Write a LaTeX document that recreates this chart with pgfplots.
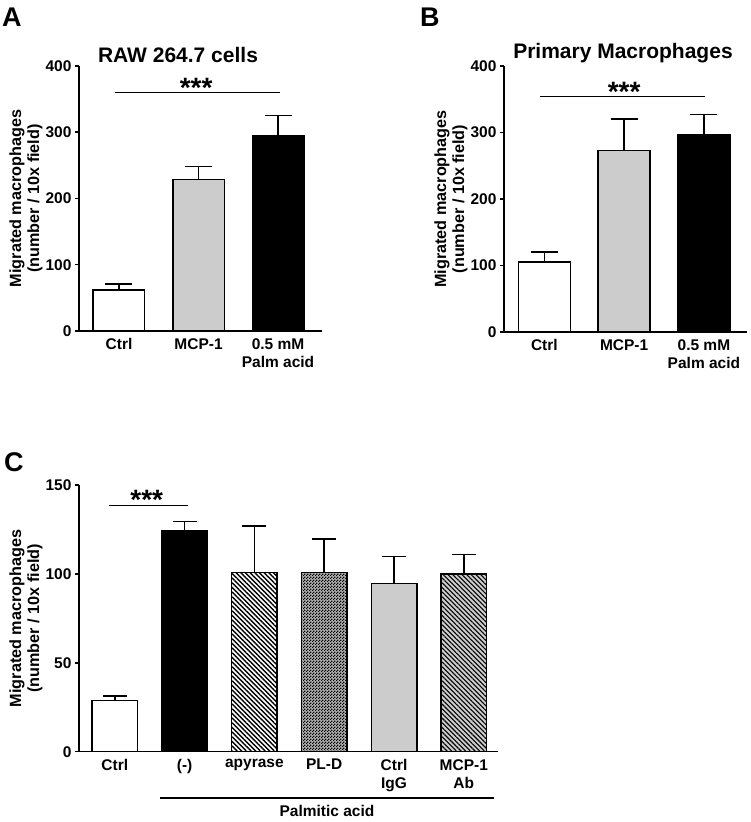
\documentclass[border=0pt]{standalone}
\usepackage{pgfplots}
\pgfplotsset{compat=1.18}
\usepackage{fontspec}
\setmainfont{Liberation Sans}
\usetikzlibrary{patterns,patterns.meta}
\pgfdeclarepatternformonly{finecheck}{\pgfpointorigin}{\pgfqpoint{3pt}{3pt}}{\pgfqpoint{3pt}{3pt}}{%
  \pgfpathrectangle{\pgfpointorigin}{\pgfqpoint{1.5pt}{1.5pt}}%
  \pgfpathrectangle{\pgfqpoint{1.5pt}{1.5pt}}{\pgfqpoint{1.5pt}{1.5pt}}%
  \pgfusepath{fill}}
\newcommand{\lbl}{\fontsize{15.5}{18}\selectfont\bfseries}
\pgfplotsset{
  panel/.style={
    scale only axis,
    axis lines*=left,
    axis line style={line width=1.5pt, black},
    ymin=0,
    tick align=outside,
    major tick length=4pt,
    ytick style={line width=1.5pt, black},
    xtick style={draw=none},
    tick label style={font=\lbl},
    /pgf/number format/assume math mode=true,
    xticklabel style={align=center},
    ylabel style={font=\fontsize{16.2}{18}\selectfont\bfseries, align=center, anchor=center},
    clip=false,
  },
  bar/.style={ybar, bar shift=0pt, draw=black, line width=1.5pt,
    error bars/y dir=plus, error bars/y explicit,
    error bars/error mark=|,
    error bars/error bar style={line width=1.5pt, black},
    error bars/error mark options={line width=1.5pt, black, mark size=#1}},
}
\begin{document}
\begin{tikzpicture}
\useasboundingbox (0,0) rectangle (750pt,822pt);
% Panel A
\begin{axis}[panel, at={(79pt,491pt)}, anchor=south west,
  width=243pt, height=265pt,
  xmin=-0.503, xmax=2.553, ymax=400, ytick={0,100,200,300,400},
  xtick={0,1,2}, xticklabels={Ctrl, MCP-1, {0.5 mM\\Palm acid}},
  ylabel={Migrated macrophages\\(number / 10x field)},
  ylabel style={at={(axis description cs:-0.218,0.5)}},
  bar width=51.5pt]
\addplot[bar=13.5pt, fill=white] coordinates {(0,62) +- (0,9)};
\addplot[bar=13.5pt, fill=gray!40] coordinates {(1,229) +- (0,19)};
\addplot[bar=13.5pt, fill=black] coordinates {(2,295) +- (0,30)};
\draw[line width=0.8pt] (axis cs:-0.05,360) -- (axis cs:2.03,360);
\node[anchor=base, font=\fontsize{28}{30}\selectfont\bfseries] at (axis cs:0.97,353) {***};
\end{axis}
% Panel B
\begin{axis}[panel, at={(504pt,490pt)}, anchor=south west,
  width=243pt, height=266pt,
  xmin=-0.506, xmax=2.54, ymax=400, ytick={0,100,200,300,400},
  xtick={0,1,2}, xticklabels={Ctrl, MCP-1, {0.5 mM\\Palm acid}},
  ylabel={Migrated macrophages\\(number / 10x field)},
  ylabel style={at={(axis description cs:-0.218,0.5)}},
  bar width=52pt]
\addplot[bar=13.5pt, fill=white] coordinates {(0,105) +- (0,15)};
\addplot[bar=13.5pt, fill=gray!40] coordinates {(1,273) +- (0,47)};
\addplot[bar=13.5pt, fill=black] coordinates {(2,296) +- (0,31)};
\draw[line width=0.8pt] (axis cs:-0.054,354) -- (axis cs:2.01,354);
\node[anchor=base, font=\fontsize{28}{30}\selectfont\bfseries] at (axis cs:1.0,347) {***};
\end{axis}
% Panel C
\begin{axis}[panel, at={(79pt,70.3pt)}, anchor=south west,
  width=419pt, height=266.7pt,
  xmin=-0.513, xmax=5.49, ymax=150, ytick={0,50,100,150},
  xtick={0,1,2,3,4,5}, xticklabels={Ctrl, (-), apyrase, PL-D, {Ctrl\\IgG}, {MCP-1\\Ab}},
  ylabel={Migrated macrophages\\(number / 10x field)},
  ylabel style={at={(axis description cs:-0.1265,0.5)}},
  bar width=45.5pt]
\addplot[bar=12pt, fill=white] coordinates {(0,28.7) +- (0,2.6)};
\addplot[bar=12pt, fill=black] coordinates {(1,124) +- (0,5.6)};
\addplot[bar=12pt, fill=white, postaction={pattern={Lines[angle=-45, distance=3.3pt, line width=1.4pt]}, pattern color=black}] coordinates {(2,100.7) +- (0,26.1)};
\addplot[bar=12pt, fill=gray!60, postaction={pattern=finecheck, pattern color=black}] coordinates {(3,100.7) +- (0,18.9)};
\addplot[bar=12pt, fill=gray!40] coordinates {(4,94.7) +- (0,15)};
\addplot[bar=12pt, fill=gray!40, postaction={pattern={Lines[angle=-45, distance=3.3pt, line width=1.1pt]}, pattern color=black}] coordinates {(5,100) +- (0,10.8)};
\draw[line width=0.8pt] (axis cs:-0.083,138.4) -- (axis cs:1.053,138.4);
\node[anchor=base, font=\fontsize{28}{30}\selectfont\bfseries] at (axis cs:0.457,136) {***};
\draw[line width=1.5pt] (axis cs:0.648,-25.9) -- (axis cs:5.43,-25.9);
\node[anchor=base, font=\lbl] at (axis cs:3.04,-36.6) {Palmitic acid};
\end{axis}
% Titles and panel letters
\node[anchor=base, font=\fontsize{21}{25}\selectfont\bfseries] at (178pt,759.3pt) {RAW 264.7 cells};
\node[anchor=base, font=\fontsize{21}{25}\selectfont\bfseries] at (623pt,763.5pt) {Primary Macrophages};
\node[anchor=base west, inner sep=0pt, font=\fontsize{27}{30}\selectfont\bfseries] at (2pt,795pt) {A};
\node[anchor=base west, inner sep=0pt, font=\fontsize{27}{30}\selectfont\bfseries] at (420pt,795.3pt) {B};
\node[anchor=base west, inner sep=0pt, font=\fontsize{27}{30}\selectfont\bfseries] at (4pt,350.3pt) {C};
\end{tikzpicture}
\end{document}
